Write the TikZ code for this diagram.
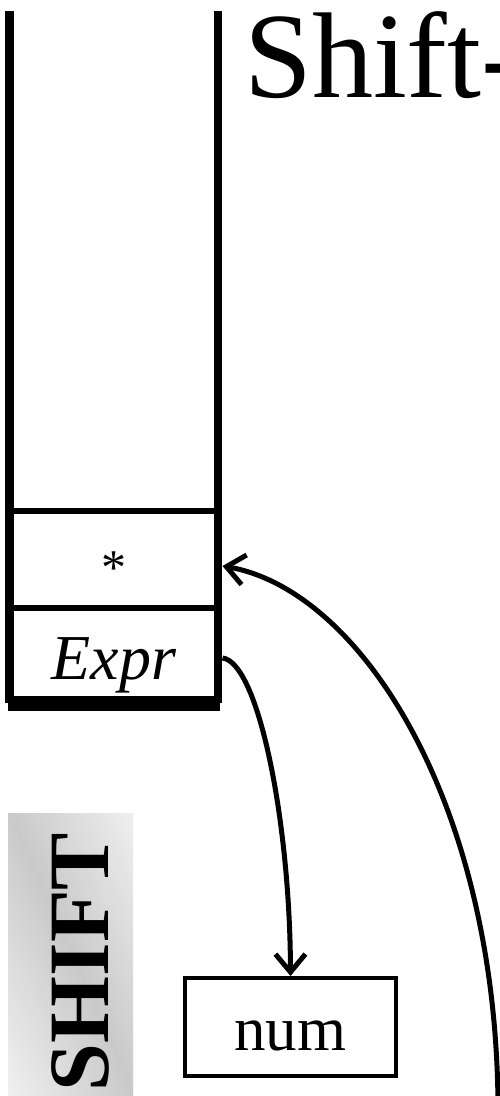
\documentclass[tikz,border=0pt]{standalone}
\usepackage{fontspec}
\setmainfont{Liberation Serif}
\usetikzlibrary{arrows.meta}
\begin{document}
\begin{tikzpicture}[x=1pt,y=-1pt,
  stackline/.style={line width=8.5pt},
  divider/.style={line width=6pt},
  cell/.style={minimum width=208.5pt, minimum height=90pt, inner sep=0pt, outer sep=4.25pt,
    text depth=0pt, font=\fontsize{64}{64}\selectfont},
  box/.style={draw, line width=4pt, minimum width=211pt, minimum height=98pt, inner sep=0pt,
    text depth=0pt, font=\fontsize{63}{63}\selectfont},
  conn/.style={line width=5pt, -{Straight Barb[length=18pt,width=30pt,line width=5pt]}},
  ]
\useasboundingbox (0,0) rectangle (500,1096);
% SHIFT label background (diagonal gradient made of thin bands)
\begin{scope}
\clip (8,813) rectangle (133,1100);
\foreach \t in {-124,-120,...,140} {
  \pgfmathsetmacro\c{21-15*min(abs(\t-8)/125,1)}
  \fill[black!\c] (\t,813) -- ({\t+4.6},813) -- ({\t+131.6},1100) -- ({\t+127},1100) -- cycle;
}
\end{scope}
% stack
\draw[stackline] (9.5,11) -- (9.5,703);
\draw[stackline] (218,11) -- (218,703);
\fill (8,696) rectangle (220,711);
\draw[divider] (9.5,511) -- (218,511);
\draw[divider] (9.5,608) -- (218,608);
\node[cell, text height=49pt, font=\fontsize{50}{50}\selectfont] (star) at (114,560) {*};
\node[cell, text height=50pt] (expr) at (114,654) {\itshape Expr};
% title
\node[anchor=base west, inner sep=0pt, font=\fontsize{122}{122}\selectfont] (title) at (244,97) {Shift-};
% num box
\node[box, text height=46pt] (num) at (290.5,1027) {num};
% SHIFT label
\node[rotate=90, anchor=base, inner sep=0pt, font=\bfseries\fontsize{86}{86}\selectfont] (shift) at (108,962) {SHIFT};
% connectors
\coordinate (src) at (498,1102);
\draw[conn] ([yshift=-4pt]expr.east) .. controls (258,662) and (290,820) .. (num.north);
\draw[conn] (src) .. controls (495,800) and (360,590) .. ([yshift=-6pt]star.east);
\end{tikzpicture}
\end{document}
